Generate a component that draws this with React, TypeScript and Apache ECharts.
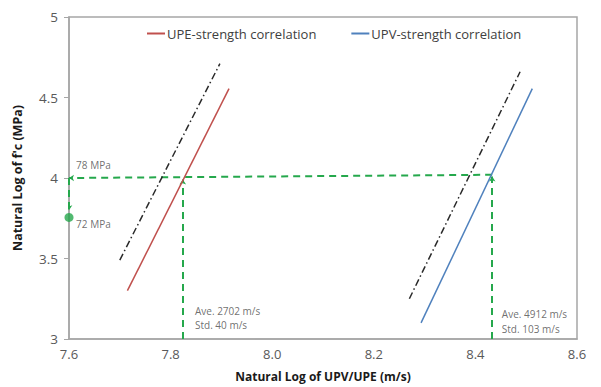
import React, { useEffect, useRef } from "react";
import * as echarts from "echarts";

const upeLine: [number, number][] = [[7.715, 3.30], [7.915, 4.555]];
const upeBound: [number, number][] = [[7.70, 3.49], [7.897, 4.71]];
const upvLine: [number, number][] = [[8.293, 3.10], [8.512, 4.555]];
const upvBound: [number, number][] = [[8.27, 3.25], [8.488, 4.66]];

const guideH: [number, number][] = [[8.433, 4.02], [7.6, 4.0]];
const guideV1: [number, number][] = [[7.824, 3.0], [7.824, 3.99]];
const guideV2: [number, number][] = [[8.433, 3.0], [8.433, 4.01]];
const guideDown: [number, number][] = [[7.6, 4.0], [7.6, 3.80]];
const dot: [number, number][] = [[7.6, 3.755]];

const annotations: { pos: [number, number]; text: string }[] = [
  { pos: [7.614, 4.083], text: "78 MPa" },
  { pos: [7.614, 3.715], text: "72 MPa" },
  { pos: [7.848, 3.172], text: "Ave. 2702 m/s" },
  { pos: [7.848, 3.085], text: "Std. 40 m/s" },
  { pos: [8.452, 3.154], text: "Ave. 4912 m/s" },
  { pos: [8.452, 3.064], text: "Std. 103 m/s" },
];

const xTicks = { min: 7.6, max: 8.6, interval: 0.2 };
const yTicks = { min: 3, max: 5, interval: 0.5 };

const FONT = "Open Sans";
const GREEN = "#25a84c";

export default function App() {
  const ref = useRef<HTMLDivElement>(null);
  useEffect(() => {
    if (!ref.current) return;
    const chart = echarts.init(ref.current, null, { renderer: "svg" });
    const guide = (coords: [number, number][], symbol: string[]) => ({
      type: "lines",
      coordinateSystem: "cartesian2d",
      polyline: false,
      symbol,
      symbolSize: 5,
      silent: true,
      lineStyle: { color: GREEN, width: 2, type: [7, 5], opacity: 1 },
      data: [{ coords }],
      z: 3,
    });
    chart.setOption({
      animation: false,
      backgroundColor: "#ffffff",
      textStyle: { fontFamily: FONT },
      grid: {
        left: 69,
        right: 24,
        top: 17,
        bottom: 45,
        show: true,
        borderColor: "#a6a6a6",
        borderWidth: 1.5,
      },
      legend: {
        data: ["UPE-strength correlation", "UPV-strength correlation"],
        left: 142,
        top: 22,
        icon: "rect",
        itemWidth: 18,
        itemHeight: 2,
        itemGap: 35,
        textStyle: { fontFamily: FONT, fontSize: 13, color: "#404040", padding: [0, 0, 0, -3] },
      },
      xAxis: {
        type: "value",
        min: xTicks.min,
        max: xTicks.max,
        interval: xTicks.interval,
        splitLine: { show: false },
        axisLine: { show: true, lineStyle: { color: "#a6a6a6", width: 1.5 } },
        axisTick: { show: false },
        axisLabel: {
          color: "#595959",
          fontSize: 13,
          fontFamily: FONT,
          margin: 8,
          formatter: (v: number) => v.toFixed(1),
        },
        name: "Natural Log of UPV/UPE (m/s)",
        nameLocation: "middle",
        nameGap: 31,
        nameTextStyle: { fontFamily: FONT, fontSize: 12, fontWeight: "bold", color: "#1a1a1a" },
      },
      yAxis: {
        type: "value",
        min: yTicks.min,
        max: yTicks.max,
        interval: yTicks.interval,
        splitLine: { show: false },
        axisLine: { show: true, lineStyle: { color: "#a6a6a6", width: 1.5 } },
        axisTick: { show: true, length: 5, lineStyle: { color: "#a6a6a6" } },
        axisLabel: {
          color: "#595959",
          fontSize: 13.5,
          fontFamily: FONT,
          margin: 11,
          formatter: (v: number) => String(Math.round(v * 10) / 10),
        },
        name: "Natural Log of f'c (MPa)",
        nameLocation: "middle",
        nameGap: 45,
        nameTextStyle: { fontFamily: FONT, fontSize: 12.5, fontWeight: "bold", color: "#1a1a1a" },
      },
      series: [
        {
          name: "UPE-strength correlation",
          type: "line",
          data: upeLine,
          showSymbol: false,
          symbol: "none",
          color: "#c0504d",
          lineStyle: { color: "#c0504d", width: 1.5 },
          z: 4,
        },
        {
          name: "UPV-strength correlation",
          type: "line",
          data: upvLine,
          showSymbol: false,
          symbol: "none",
          color: "#4f81bd",
          lineStyle: { color: "#4f81bd", width: 1.5 },
          z: 4,
        },
        {
          name: "bound1",
          type: "line",
          data: upeBound,
          symbol: "none",
          lineStyle: { color: "#2a2a2a", width: 1.5, type: [7, 3, 1.5, 3] },
          z: 4,
        },
        {
          name: "bound2",
          type: "line",
          data: upvBound,
          symbol: "none",
          lineStyle: { color: "#2a2a2a", width: 1.5, type: [7, 3, 1.5, 3] },
          z: 4,
        },
        guide(guideH, ["none", "arrow"]),
        guide(guideV1, ["none", "arrow"]),
        guide(guideV2, ["none", "arrow"]),
        guide(guideDown, ["none", "arrow"]),
        {
          name: "dot",
          type: "scatter",
          data: dot,
          symbol: "circle",
          symbolSize: 9,
          itemStyle: { color: GREEN },
          z: 5,
        },
        {
          name: "notes",
          type: "scatter",
          data: annotations.map((a) => ({ value: a.pos, name: a.text })),
          symbolSize: 0,
          itemStyle: { color: "transparent" },
          label: {
            show: true,
            position: "right",
            distance: 0,
            formatter: (p: any) => p.name,
            fontFamily: FONT,
            fontSize: 10,
            color: "#4a4a4a",
          },
          z: 6,
        },
      ],
    });
    return () => chart.dispose();
  }, []);
  return <div ref={ref} style={{ width: 601, height: 387, position: "absolute", left: 0, top: 0 }} />;
}
